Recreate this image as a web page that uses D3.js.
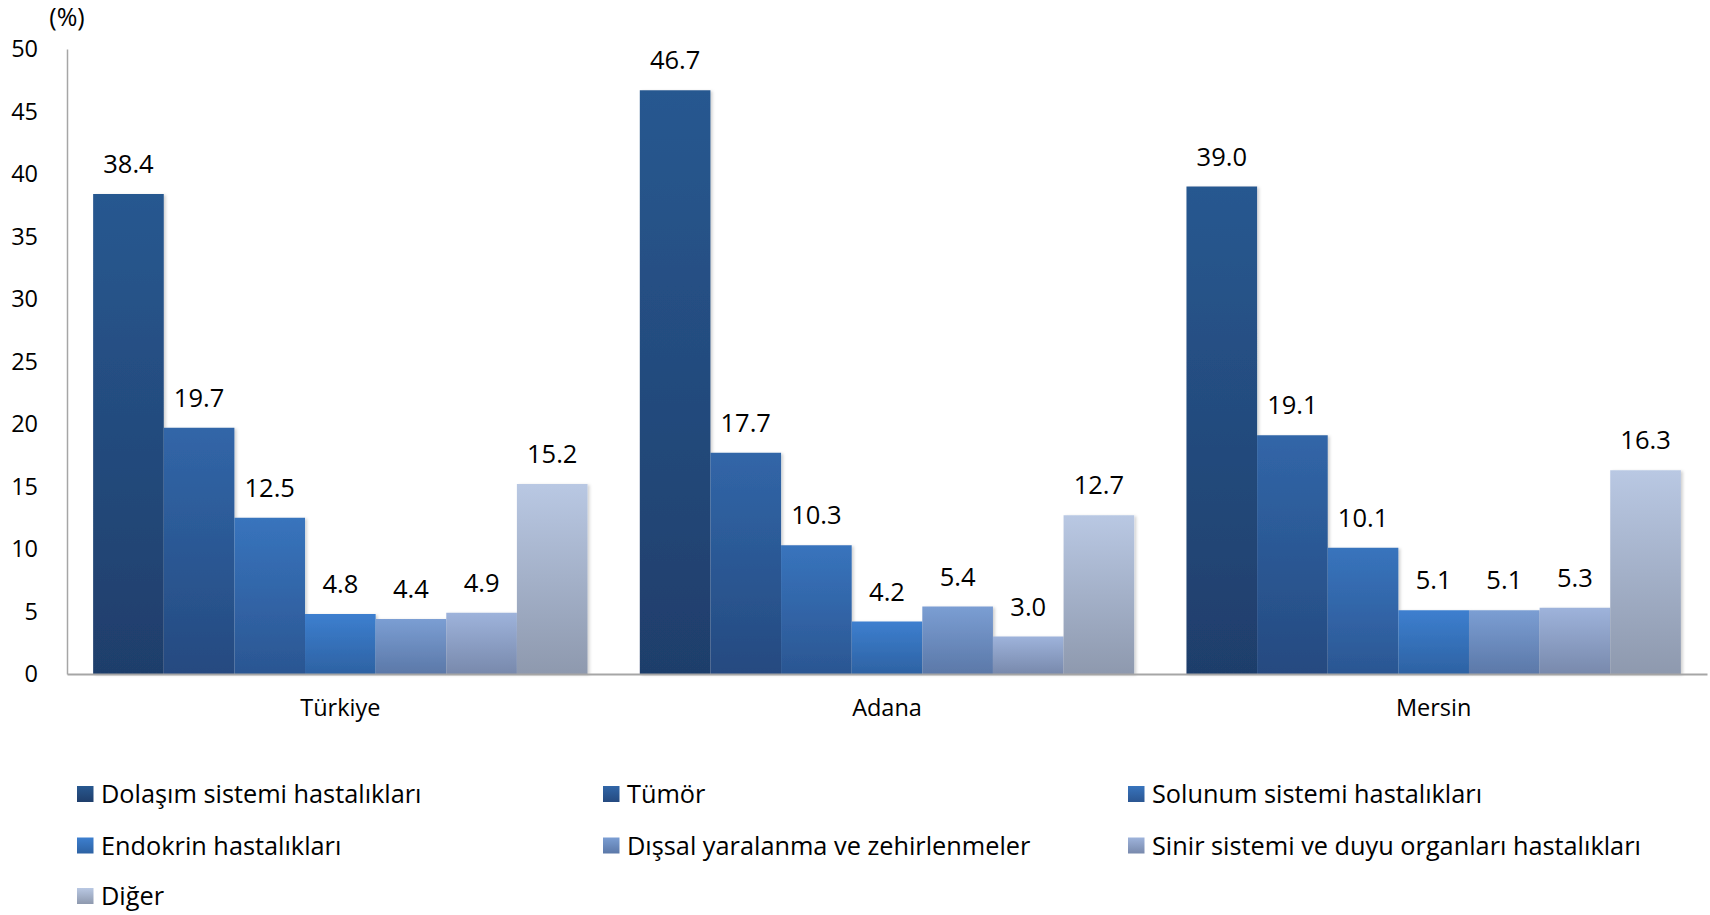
<!DOCTYPE html>
<html>
<head>
<meta charset="utf-8">
<script src="https://cdn.jsdelivr.net/npm/d3@7"></script>
<style>
  html, body { margin: 0; padding: 0; background: #fff; }
  svg { display: block; font-family: "Open Sans", Lato, sans-serif; }
</style>
</head>
<body>
<svg id="chart" width="1710" height="915"></svg>
<script>
const categories = ["Türkiye", "Adana", "Mersin"];
const seriesNames = [
  "Dolaşım sistemi hastalıkları",
  "Tümör",
  "Solunum sistemi hastalıkları",
  "Endokrin hastalıkları",
  "Dışsal yaralanma ve zehirlenmeler",
  "Sinir sistemi ve duyu organları hastalıkları",
  "Diğer"
];
const dolasim  = [38.4, 46.7, 39.0];
const tumor    = [19.7, 17.7, 19.1];
const solunum  = [12.5, 10.3, 10.1];
const endokrin = [4.8, 4.2, 5.1];
const dissal   = [4.4, 5.4, 5.1];
const sinir    = [4.9, 3.0, 5.3];
const diger    = [15.2, 12.7, 16.3];
const seriesValues = [dolasim, tumor, solunum, endokrin, dissal, sinir, diger];
const yTicks = [0, 5, 10, 15, 20, 25, 30, 35, 40, 45, 50];
const yUnit = "(%)";

// gradient colours per series (top, bottom)
const topColors = ["#285890", "#3166a8", "#3874bd", "#3d7fcf", "#7b9ed3", "#9eb3db", "#b9c8e3"];
const botColors = ["#1f3e6b", "#254a80", "#2b5692", "#2d62a3", "#5b78a8", "#7889ac", "#8e99ae"];

const FONT = "'Open Sans', Lato, sans-serif";
const svg = d3.select("#chart");
const mLeft = 67, mRight = 1707, mTop = 49, mBottom = 674;

const defs = svg.append("defs");
seriesNames.forEach((s, i) => {
  const g = defs.append("linearGradient").attr("id", "grad" + i)
    .attr("x1", 0).attr("y1", 0).attr("x2", 0).attr("y2", 1);
  g.append("stop").attr("offset", "0%").attr("stop-color", topColors[i]);
  g.append("stop").attr("offset", "100%").attr("stop-color", botColors[i]);
});
const f = defs.append("filter").attr("id", "shadow").attr("x", "-10%").attr("y", "-10%").attr("width", "130%").attr("height", "120%");
f.append("feDropShadow").attr("dx", 2).attr("dy", 1).attr("stdDeviation", 1.5)
  .attr("flood-color", "#000").attr("flood-opacity", 0.18);

const x0 = d3.scaleBand().domain(categories).range([mLeft, mRight]).padding(0);
const x1 = d3.scaleBand().domain(d3.range(seriesNames.length)).range([0, x0.bandwidth()])
  .paddingInner(0).paddingOuter(0.37);
const y = d3.scaleLinear().domain([0, 50]).range([mBottom, mTop]);

// bars
const groups = svg.append("g").selectAll("g").data(categories).join("g")
  .attr("transform", d => `translate(${x0(d)},0)`);

groups.each(function(cat, ci) {
  const g = d3.select(this);
  const data = seriesValues.map((arr, si) => ({ si, v: arr[ci] }));
  g.selectAll("rect").data(data).join("rect")
    .attr("x", d => x1(d.si))
    .attr("y", d => y(d.v))
    .attr("width", x1.bandwidth())
    .attr("height", d => y(0) - y(d.v))
    .attr("fill", d => `url(#grad${d.si})`)
    .attr("filter", "url(#shadow)");
  g.selectAll("text.lbl").data(data).join("text")
    .attr("class", "lbl")
    .attr("x", d => x1(d.si) + x1.bandwidth() / 2)
    .attr("y", d => y(d.v) - 21)
    .attr("text-anchor", "middle")
    .attr("font-size", 25.5)
    .attr("fill", "#000")
    .text(d => d.v.toFixed(1));
});

// y axis
const yAxis = svg.append("g").attr("transform", `translate(${mLeft},0)`)
  .call(d3.axisLeft(y).tickValues(yTicks).tickSize(0).tickPadding(29));
yAxis.select(".domain").attr("stroke", "#a6a6a6").attr("stroke-width", 1.5);
yAxis.selectAll("text").attr("font-size", 23.5).attr("fill", "#000").attr("font-family", FONT);

// x axis
const xAxis = svg.append("g").attr("transform", `translate(0,${mBottom})`)
  .call(d3.axisBottom(x0).tickSize(0).tickPadding(25));
xAxis.select(".domain").attr("stroke", "#a6a6a6").attr("stroke-width", 2);
xAxis.selectAll("text").attr("font-size", 23.5).attr("fill", "#000").attr("font-family", FONT);

// unit label
svg.append("text").attr("x", 67).attr("y", 26).attr("text-anchor", "middle")
  .attr("font-size", 25).attr("fill", "#000").text(yUnit);

// legend
const colX = [77, 603, 1128];
const rowY = [794, 845.5, 896];
const leg = svg.append("g").selectAll("g").data(seriesNames).join("g")
  .attr("transform", (d, i) => `translate(${colX[i % 3]},${rowY[Math.floor(i / 3)]})`);
leg.append("rect").attr("x", 0).attr("y", -8).attr("width", 16.5).attr("height", 16)
  .attr("fill", (d, i) => `url(#grad${i})`);
leg.append("text").attr("x", 24).attr("y", 0).attr("dy", "0.36em")
  .attr("font-size", 25.3).attr("fill", "#000").text(d => d);
</script>
</body>
</html>
